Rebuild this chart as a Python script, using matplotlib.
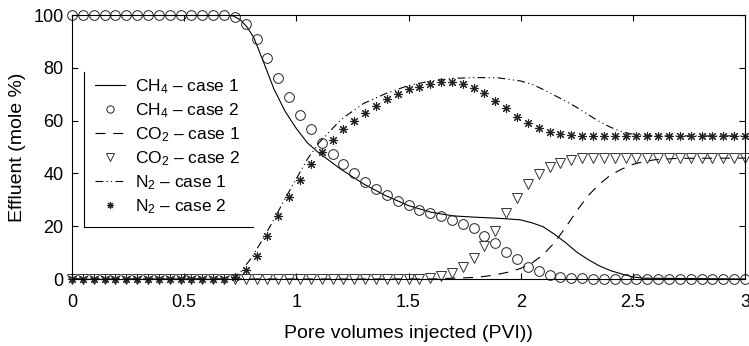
#!/usr/bin/env python
"""
Effluent composition (CH4 / CO2 / N2) versus pore volumes injected, two cases
"""
import numpy as np
import matplotlib
matplotlib.use('Agg')
import matplotlib.pyplot as plt

plt.rcParams['font.family'] = ['Liberation Sans', 'DejaVu Sans']
plt.rcParams['mathtext.fontset'] = 'custom'
plt.rcParams['mathtext.rm'] = 'Liberation Sans'
plt.rcParams['mathtext.it'] = 'Liberation Sans'
plt.rcParams['font.size'] = 13

# case 1 : continuous curves
ch4_c1_x = [0, 0.70, 0.72, 0.75, 0.78, 0.81, 0.85, 0.90, 0.95, 1.00, 1.05, 1.10, 1.20,
            1.30, 1.40, 1.50, 1.60, 1.70, 1.80, 1.90, 2.00, 2.05, 2.10, 2.15, 2.20, 2.25,
            2.30, 2.35, 2.40, 2.45, 2.50, 2.55, 3.0]
ch4_c1_y = [100, 100, 99.6, 98.2, 95.5, 91.5, 83.0, 72.0, 63.5, 57.0, 51.5, 47.8, 41.5,
            36.0, 31.5, 27.8, 25.3, 23.9, 23.4, 23.0, 22.4, 21.3, 19.8, 17.0, 13.8, 10.2,
            7.4, 5.0, 3.2, 1.9, 0.8, 0.3, 0]

co2_c1_x = [0, 1.60, 1.70, 1.80, 1.85, 1.90, 1.95, 2.00, 2.05, 2.10, 2.15, 2.20, 2.25,
            2.30, 2.35, 2.40, 2.45, 2.50, 2.55, 2.60, 2.70, 3.0]
co2_c1_y = [0, 0, 0.3, 0.6, 1.1, 1.8, 2.7, 4.0, 6.0, 9.2, 13.7, 19.5, 25.8,
            31.5, 35.9, 39.3, 41.6, 43.4, 44.5, 45.2, 45.7, 45.8]

n2_c1_x = [0, 0.70, 0.72, 0.75, 0.80, 0.85, 0.90, 0.95, 1.00, 1.05, 1.10, 1.20, 1.30,
           1.40, 1.50, 1.60, 1.70, 1.80, 1.90, 2.00, 2.05, 2.10, 2.15, 2.20, 2.25, 2.30,
           2.35, 2.40, 2.45, 2.50, 2.55, 2.60, 3.0]
n2_c1_y = [0, 0, 0.5, 2.5, 8.0, 15.0, 22.5, 30.5, 38.0, 45.5, 51.5, 60.5, 66.5,
           70.3, 73.3, 75.0, 76.0, 76.3, 76.2, 75.0, 73.8, 71.8, 69.6, 67.4, 65.0, 62.3,
           59.7, 57.5, 55.8, 54.8, 54.4, 54.2, 54.2]

# case 2 : sampled points, 63 samples from 0 to 3 PVI
pvi_c2 = np.linspace(0, 3, 63)
ch4_c2 = [100] * 15 + [99.1, 96.6, 90.9, 83.7, 76.0, 68.8, 62.1, 56.7, 51.6, 47.2,
                       43.5, 40.0, 36.9, 34.1, 31.8, 29.7, 27.9, 26.3, 25.1, 23.9,
                       22.3, 21.0, 19.2, 16.4, 13.7, 10.3, 7.5, 4.7, 3.0, 1.5,
                       0.9, 0.5, 0.3] + [0.1] * 15
co2_c2 = [0] * 33 + [0.3, 1.1, 2.4, 4.7, 7.8, 12.6, 18.3, 25.0, 30.7, 36.0, 39.8,
                     42.3, 44.1, 45.1, 45.7] + [45.8] * 15
n2_c2 = [0] * 15 + [0.9, 3.5, 8.7, 16.2, 24.0, 31.2, 37.6, 43.6, 48.2, 52.6,
                    56.8, 60.0, 62.8, 65.5, 68.1, 70.0, 71.8, 72.9, 73.7, 74.6,
                    74.7, 73.9, 72.2, 70.3, 67.5, 64.7, 61.5, 59.0, 57.1, 55.6,
                    54.9, 54.5, 54.3] + [54.2] * 15

labels = [r'CH$_4$ – case 1', r'CH$_4$ – case 2', r'CO$_2$ – case 1',
          r'CO$_2$ – case 2', r'N$_2$ – case 1', r'N$_2$ – case 2']

fig = plt.figure(figsize=(7.49, 3.46), dpi=100)
ax = fig.add_axes([72 / 749, 67 / 346, 673 / 749, 264 / 346])

lw = 0.8
ax.plot(ch4_c1_x, ch4_c1_y, color='black', lw=lw, label=labels[0])
ax.plot(pvi_c2, ch4_c2, ls='none', marker='o', ms=7, mfc='none', mec='#222222',
        mew=0.7, clip_on=False, label=labels[1])
ax.plot(co2_c1_x, co2_c1_y, color='black', lw=lw, dashes=(9, 7), label=labels[2])
ax.plot(pvi_c2, co2_c2, ls='none', marker='v', ms=7.5, mfc='none', mec='#333333',
        mew=0.7, clip_on=False, label=labels[3])
ax.plot(n2_c1_x, n2_c1_y, color='black', lw=lw, dashes=(7, 3, 1, 3, 1, 3), label=labels[4])
ax.plot(pvi_c2, n2_c2, ls='none', marker=(8, 2, 0), ms=6.5, mec='#222222',
        mew=0.8, clip_on=False, label=labels[5])

ax.set_xlim(0, 3)
ax.set_ylim(0, 100)
ax.set_xticks([0, 0.5, 1, 1.5, 2, 2.5, 3])
ax.set_xticklabels(['0', '0.5', '1', '1.5', '2', '2.5', '3'])
ax.set_yticks([0, 20, 40, 60, 80, 100])
ax.tick_params(direction='in', length=4, width=0.8, top=True, right=True, labelsize=13)
ax.tick_params(axis='x', pad=11)
ax.tick_params(axis='y', pad=6)
for s in ax.spines.values():
    s.set_linewidth(0.8)

ax.set_xlabel('Pore volumes injected (PVI))', fontsize=14, labelpad=10)
ax.set_ylabel('Effluent (mole %)', fontsize=14, labelpad=5)

ax.legend(loc='upper left', bbox_to_anchor=(0.024, 0.79), frameon=False,
          fontsize=12.5, handlelength=1.75, handletextpad=0.55, labelspacing=0.3,
          borderaxespad=0, markerscale=0.75)
# legend frame: only the left and bottom edges show
ax.plot([0.018, 0.018, 0.269], [0.784, 0.197, 0.197], color='black', lw=0.8,
        transform=ax.transAxes, clip_on=False)

fig.savefig('out.png', dpi=100)
